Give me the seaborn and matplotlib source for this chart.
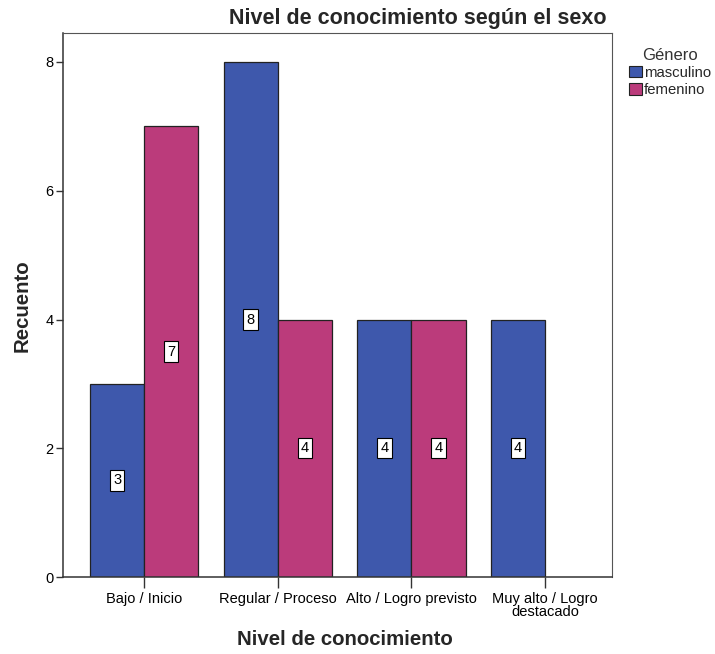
import matplotlib
matplotlib.use("Agg")
import matplotlib.pyplot as plt
import pandas as pd
import seaborn as sns

# ── Data ──────────────────────────────────────────────────────────────────────
niveles = ["Bajo / Inicio", "Regular / Proceso", "Alto / Logro previsto",
           "Muy alto / Logro\ndestacado"]
generos = ["masculino", "femenino"]
masculino = [3, 8, 4, 4]
femenino = [7, 4, 4, None]   # no bar for "Muy alto" femenino

colores = {"masculino": "#3E58AC", "femenino": "#BB3B7B"}

rows = []
for nivel, m, f in zip(niveles, masculino, femenino):
    rows.append({"nivel": nivel, "genero": "masculino", "recuento": m})
    if f is not None:
        rows.append({"nivel": nivel, "genero": "femenino", "recuento": f})
df = pd.DataFrame(rows)

# ── Figure ────────────────────────────────────────────────────────────────────
sns.set_theme(style="white")
plt.rcParams["font.family"] = ["Liberation Sans", "DejaVu Sans"]

fig = plt.figure(figsize=(7.15, 6.54), dpi=100)
ax = fig.add_axes([0.0881, 0.1177, 0.7678, 0.8318])

sns.barplot(
    data=df, x="nivel", y="recuento", hue="genero",
    order=niveles, hue_order=generos, palette=colores,
    width=0.81, edgecolor="#222222", linewidth=0.9,
    saturation=1, errorbar=None, ax=ax,
)

# value labels in the middle of each bar
for cont in ax.containers:
    for bar in cont:
        h = bar.get_height()
        if h is None or h != h or h == 0:
            continue
        ax.text(bar.get_x() + bar.get_width() / 2, h / 2, f"{int(h)}",
                ha="center", va="center", fontsize=10.5, color="black",
                bbox=dict(boxstyle="square,pad=0.22", facecolor="white",
                          edgecolor="black", linewidth=0.8))

ax.set_xlim(-0.607, 3.5)
ax.set_ylim(0, 8.45)
ax.set_yticks([0, 2, 4, 6, 8])
ax.tick_params(axis="both", which="both", direction="out", labelsize=10.5,
               colors="#333333", labelcolor="black")
ax.tick_params(axis="y", length=5, width=1, left=True, pad=2)
ax.tick_params(axis="x", length=8, width=1, bottom=True, pad=3)
for lbl in ax.get_xticklabels():
    lbl.set_linespacing(0.85)

for side in ["left", "bottom"]:
    ax.spines[side].set_color("#333333")
    ax.spines[side].set_linewidth(1.1)
for side in ["top", "right"]:
    ax.spines[side].set_color("#555555")
    ax.spines[side].set_linewidth(0.8)

ax.set_xlabel("")
ax.set_ylabel("")
fig.text(0.031, 0.533, "Recuento", rotation=90, ha="center", va="center",
         fontsize=14.7, fontweight="bold")
fig.text(0.483, 0.022, "Nivel de conocimiento", ha="center", va="center",
         fontsize=14.7, fontweight="bold")
fig.text(0.5845, 0.971, "Nivel de conocimiento según el sexo", ha="center",
         va="center", fontsize=15.5, fontweight="bold")

leg = ax.legend(title="Género", loc="upper left", bbox_to_anchor=(1.02, 0.984),
                frameon=False, fontsize=10.7, title_fontsize=12,
                handlelength=0.85, handleheight=0.85, handletextpad=0.15,
                labelspacing=0.2, borderaxespad=0)
for patch in leg.get_patches():
    patch.set_edgecolor("#222222")
    patch.set_linewidth(0.8)
leg.get_title().set_color("#333333")

fig.savefig("out.png", dpi=100)
